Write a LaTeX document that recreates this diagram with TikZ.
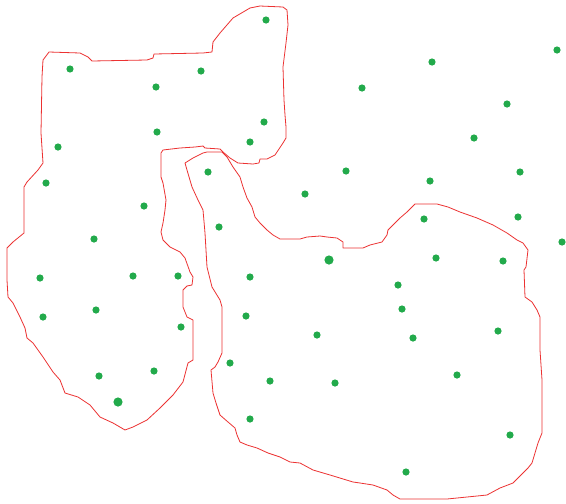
\documentclass[tikz,border=0pt]{standalone}
\definecolor{dotgreen}{RGB}{34,170,75}
\definecolor{outlinered}{RGB}{236,50,50}
\tikzset{
  outline/.style={draw=outlinered, line width=0.8pt, line join=round},
  dot/.style={fill=dotgreen},
}
\begin{document}
\begin{tikzpicture}[x=1pt,y=-1pt]
\useasboundingbox[fill=white] (0,0) rectangle (566,504);
% left outline
\draw[outline] (43,60) -- (49,52) -- (80,53) -- (88,57) -- (92,61) -- (147,60) -- (153,58) -- (154,54) -- (203,53) -- (212,52) -- (213,42) -- (220,33) -- (233,18) -- (250,8) -- (260,6) -- (283,7) -- (287,10) -- (288,25) -- (286,43) -- (283,67) -- (284,100) -- (285,115) -- (286,127) -- (286,138) -- (283,143) -- (275,155) -- (267,159) -- (260,159) -- (259,163) -- (253,164) -- (238,163) -- (230,158) -- (223,152) -- (220,149) -- (205,148) -- (203,146) -- (195,147) -- (180,148) -- (163,150) -- (161,153) -- (161,177) -- (163,183) -- (166,200) -- (165,210) -- (163,223) -- (161,232) -- (163,240) -- (170,247) -- (180,252) -- (185,258) -- (190,272) -- (193,277) -- (192,285) -- (187,286) -- (183,290) -- (183,307) -- (187,317) -- (193,320) -- (193,360) -- (188,363) -- (183,382) -- (173,395) -- (160,408) -- (147,420) -- (133,427) -- (125,430) -- (113,423) -- (100,417) -- (90,405) -- (78,397) -- (65,393) -- (60,380) -- (53,372) -- (43,357) -- (33,343) -- (27,338) -- (25,328) -- (20,317) -- (13,303) -- (8,297) -- (7,280) -- (7,248) -- (13,242) -- (24,233) -- (24,187) -- (27,182) -- (38,170) -- (43,163) -- (41,133) -- (42,77) -- cycle;
% right outline
\draw[outline] (185,163) -- (193,158) -- (203,153) -- (207,152) -- (222,152) -- (227,157) -- (233,167) -- (240,177) -- (243,187) -- (247,198) -- (252,207) -- (255,217) -- (260,223) -- (267,230) -- (273,235) -- (280,239) -- (300,239) -- (307,237) -- (320,236) -- (327,237) -- (337,238) -- (343,242) -- (343,248) -- (363,248) -- (370,245) -- (382,242) -- (387,235) -- (388,230) -- (393,225) -- (400,218) -- (407,212) -- (415,204) -- (437,204) -- (448,207) -- (460,212) -- (477,218) -- (493,225) -- (507,233) -- (517,240) -- (523,243) -- (528,250) -- (526,267) -- (524,270) -- (525,297) -- (532,302) -- (537,310) -- (540,317) -- (540,350) -- (542,380) -- (542,433) -- (538,443) -- (535,453) -- (532,463) -- (528,468) -- (523,473) -- (513,483) -- (500,488) -- (487,495) -- (447,499) -- (400,499) -- (393,495) -- (387,490) -- (373,485) -- (360,483) -- (353,482) -- (330,475) -- (313,470) -- (300,463) -- (290,462) -- (280,457) -- (268,453) -- (257,448) -- (247,445) -- (240,442) -- (237,435) -- (235,428) -- (228,422) -- (220,415) -- (216,403) -- (213,393) -- (211,370) -- (215,367) -- (218,362) -- (222,353) -- (222,307) -- (220,300) -- (212,287) -- (207,267) -- (205,233) -- (203,210) -- (198,200) -- (192,187) -- (187,170) -- cycle;
% dots
\foreach \x/\y in {266/20, 70/69, 156/87, 201/71, 157/132, 264/122, 250/142, 58/147, 46/183, 208/172, 144/206, 94/239, 40/278, 133/276, 178/276, 43/317, 96/310, 181/327, 99/376, 154/371, 432/62, 557/50, 362/88, 507/104, 474/138, 346/171, 430/181, 520/172, 305/194, 424/219, 518/217, 562/242, 219/227, 436/258, 503/261, 250/277, 398/285, 402/309, 246/316, 317/335, 413/338, 498/331, 230/363, 270/381, 335/383, 457/375, 250/419, 510/435, 406/472}
  \fill[dot] (\x,\y) circle (3.6);
\fill[dot] (118,402) circle (4.6);
\fill[dot] (329,260) circle (4.6);
\end{tikzpicture}
\end{document}
